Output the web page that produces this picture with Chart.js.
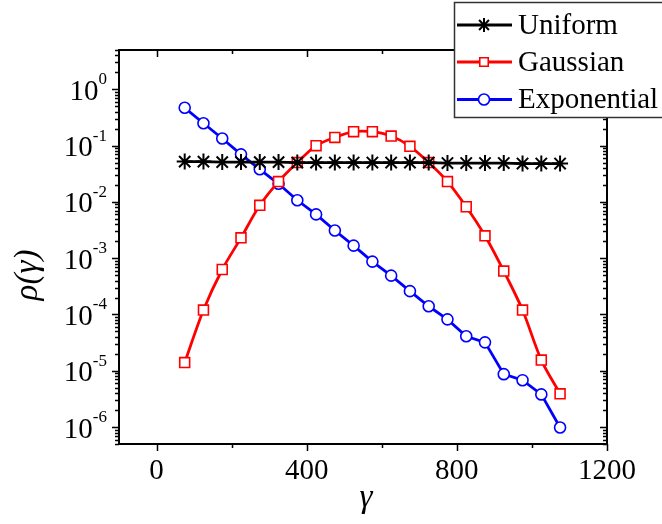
<!DOCTYPE html>
<html>
<head>
<meta charset="utf-8">
<script src="https://cdn.jsdelivr.net/npm/chart.js@4.4.1/dist/chart.umd.min.js"></script>
<style>
    html, body { margin: 0; padding: 0; background: #ffffff; }
    canvas { display: block; }
</style>
</head>
<body>
<canvas id="rhoChart" width="662" height="524"></canvas>
<script>
// gamma values (x) shared by all three curves
const gammaValues = [75, 125, 175, 225, 275, 325, 375, 425, 475, 525, 575,
    625, 675, 725, 775, 825, 875, 925, 975, 1025, 1075];

const uniformValues = [0.052, 0.052, 0.051, 0.051, 0.051, 0.051, 0.050, 0.050, 0.050, 0.050, 0.050,
    0.050, 0.050, 0.050, 0.049, 0.049, 0.049, 0.049, 0.048, 0.048, 0.048];

const gaussianValues = [1.4e-5, 1.2e-4, 6.3e-4, 2.3e-3, 8.7e-3, 0.023, 0.050, 0.100, 0.140, 0.177, 0.177,
    0.148, 0.097, 0.050, 0.023, 8.2e-3, 2.5e-3, 5.9e-4, 1.2e-4, 1.55e-5, 3.9e-6];

const exponentialValues = [0.47, 0.25, 0.134, 0.070, 0.038, 0.021, 0.0107, 0.0060, 0.0031, 0.00167, 8.7e-4,
    4.9e-4, 2.6e-4, 1.4e-4, 8.2e-5, 4.1e-5, 3.2e-5, 8.7e-6, 6.8e-6, 3.8e-6, 9.8e-7];

const xMajorTicks = [0, 400, 800, 1200];
const xMinorTicks = [200, 600, 1000];
const yDecades = [0, -1, -2, -3, -4, -5, -6];
const seriesNames = ['Uniform', 'Gaussian', 'Exponential'];

const SERIF = '"Liberation Serif", "DejaVu Serif", serif';

function toPoints(values) {
    return gammaValues.map((g, i) => ({ x: g, y: values[i] }));
}

// frame, ticks and labels drawn by hand so the exponents can be superscripts
const axesPlugin = {
    id: 'originAxes',
    afterDatasetsDraw(chart) {
        const ctx = chart.ctx;
        const area = chart.chartArea;
        const xs = chart.scales.x;
        const ys = chart.scales.y;

        ctx.save();
        ctx.strokeStyle = '#000000';
        ctx.lineWidth = 2;
        ctx.strokeRect(area.left, area.top, area.right - area.left, area.bottom - area.top);

        ctx.lineWidth = 1.5;
        ctx.beginPath();
        // x ticks: bottom outward, top inward
        xMajorTicks.forEach(v => {
            const px = Math.round(xs.getPixelForValue(v)) + 0.5;
            ctx.moveTo(px, area.bottom); ctx.lineTo(px, area.bottom + 7);
            ctx.moveTo(px, area.top); ctx.lineTo(px, area.top + 7);
        });
        xMinorTicks.forEach(v => {
            const px = Math.round(xs.getPixelForValue(v)) + 0.5;
            ctx.moveTo(px, area.bottom); ctx.lineTo(px, area.bottom + 4);
            ctx.moveTo(px, area.top); ctx.lineTo(px, area.top + 4);
        });
        // y ticks: left outward, right inward (both point left)
        for (let d = -7; d <= 0; d++) {
            for (let m = 1; m <= 9; m++) {
                const v = m * Math.pow(10, d);
                if (v < ys.min * 0.999 || v > ys.max * 1.001) continue;
                const py = Math.round(ys.getPixelForValue(v)) + 0.5;
                const len = m === 1 ? 7 : 4;
                ctx.moveTo(area.left, py); ctx.lineTo(area.left - len, py);
                ctx.moveTo(area.right, py); ctx.lineTo(area.right - len, py);
            }
        }
        ctx.stroke();

        // x tick labels
        ctx.fillStyle = '#000000';
        ctx.font = '29px ' + SERIF;
        ctx.textAlign = 'center';
        ctx.textBaseline = 'alphabetic';
        xMajorTicks.forEach(v => {
            ctx.fillText(String(v), xs.getPixelForValue(v), area.bottom + 35);
        });

        // y tick labels 10^n
        yDecades.forEach(d => {
            const py = ys.getPixelForValue(Math.pow(10, d));
            const expText = String(d);
            ctx.font = '17px ' + SERIF;
            const expW = ctx.measureText(expText).width;
            const right = area.left - 12;
            ctx.textAlign = 'left';
            ctx.fillText(expText, right - expW, py - 5);
            ctx.font = '29px ' + SERIF;
            ctx.textAlign = 'right';
            ctx.fillText('10', right - expW, py + 10.5);
        });

        // axis titles
        ctx.font = 'italic 33px ' + SERIF;
        ctx.textAlign = 'center';
        ctx.fillText('\u03b3', 366, 507);
        ctx.save();
        ctx.translate(37, 275);
        ctx.rotate(-Math.PI / 2);
        ctx.fillText('\u03c1(\u03b3)', 0, 0);
        ctx.restore();

        // legend box
        const datasets = chart.data.datasets;
        const boxLeft = 454.5, boxTop = 2.5;
        ctx.fillStyle = '#ffffff';
        ctx.fillRect(boxLeft, boxTop, 220, 115);
        ctx.strokeStyle = '#333333';
        ctx.lineWidth = 1.5;
        ctx.strokeRect(boxLeft, boxTop, 220, 115);
        const rowY = [25, 62, 99.5];
        const legendRadius = [7, 6, 5.5];
        datasets.forEach((ds, i) => {
            const y = rowY[i];
            ctx.strokeStyle = ds.borderColor;
            ctx.lineWidth = ds.borderWidth;
            ctx.beginPath();
            ctx.moveTo(457, y);
            ctx.lineTo(512, y);
            ctx.stroke();
            ctx.lineWidth = ds.pointBorderWidth;
            ctx.fillStyle = '#ffffff';
            Chart.helpers.drawPoint(ctx, {
                pointStyle: ds.pointStyle,
                radius: legendRadius[i],
                rotation: 0,
                borderWidth: ds.pointBorderWidth
            }, 484, y);
            ctx.fillStyle = '#000000';
            ctx.font = '29px ' + SERIF;
            ctx.textAlign = 'left';
            ctx.fillText(ds.label, 518, y + 8.5);
        });
        ctx.restore();
    }
};

new Chart(document.getElementById('rhoChart').getContext('2d'), {
    type: 'line',
    data: {
        datasets: [{
            label: seriesNames[0],
            data: toPoints(uniformValues),
            borderColor: '#000000',
            borderWidth: 2.8,
            pointStyle: 'star',
            pointRadius: 8,
            pointBorderColor: '#000000',
            pointBackgroundColor: '#ffffff',
            pointBorderWidth: 2,
            tension: 0
        }, {
            label: seriesNames[1],
            data: toPoints(gaussianValues),
            borderColor: '#ff0000',
            borderWidth: 2.8,
            pointStyle: 'rect',
            pointRadius: 7,
            pointBorderColor: '#ff0000',
            pointBackgroundColor: '#ffffff',
            pointBorderWidth: 1.6,
            tension: 0.3
        }, {
            label: seriesNames[2],
            data: toPoints(exponentialValues),
            borderColor: '#0000ff',
            borderWidth: 2.8,
            pointStyle: 'circle',
            pointRadius: 5.5,
            pointBorderColor: '#0000ff',
            pointBackgroundColor: '#ffffff',
            pointBorderWidth: 1.6,
            tension: 0
        }]
    },
    options: {
        responsive: false,
        animation: false,
        layout: {
            padding: { left: 119, right: 55, top: 50, bottom: 80 }
        },
        plugins: {
            legend: { display: false },
            tooltip: { enabled: false }
        },
        scales: {
            x: {
                type: 'linear',
                min: -100,
                max: 1200,
                display: false
            },
            y: {
                type: 'logarithmic',
                min: 5e-7,
                max: 5,
                display: false
            }
        }
    },
    plugins: [axesPlugin]
});
</script>
</body>
</html>
